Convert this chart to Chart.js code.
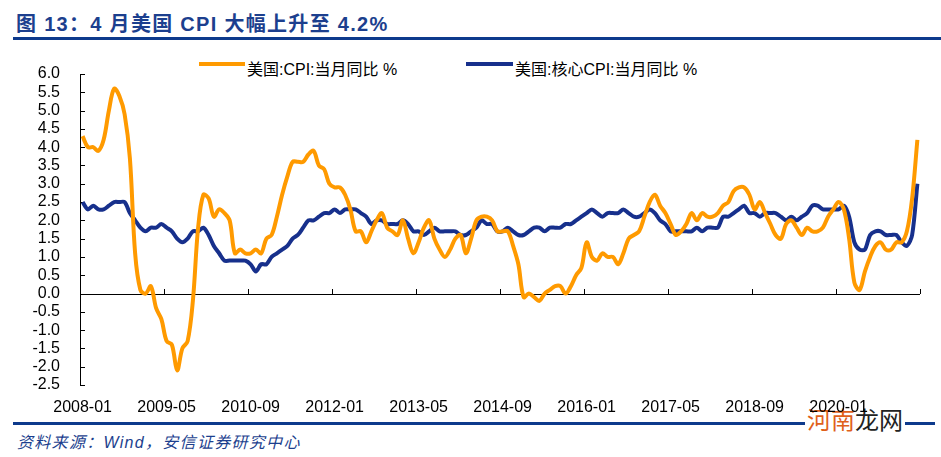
<!DOCTYPE html>
<html>
<head>
<meta charset="utf-8">
<script src="https://cdn.jsdelivr.net/npm/chart.js@4"></script>
<style>
body { margin: 0; background: #fff; font-family: "Liberation Sans", "Noto Sans CJK SC", sans-serif; }
#wrap { position: relative; width: 941px; height: 457px; overflow: hidden; }
#chart { position: absolute; left: 0; top: 0; }
.title { position: absolute; left: 16px; top: 8px; font-size: 20px; font-weight: bold; color: #1c3f8e; letter-spacing: 1.3px; white-space: nowrap; }
.rule { position: absolute; left: 13px; right: 0; height: 3px; background: #0d3a8c; }
.leg-line { position: absolute; height: 4px; }
.leg-text { position: absolute; font-size: 16px; color: #000; white-space: nowrap; }
.source { position: absolute; left: 17px; top: 429px; font-size: 16px; font-style: italic; color: #1c3f8e; letter-spacing: 1.3px; white-space: nowrap; }
.mark { position: absolute; left: 805px; top: 408px; font-size: 24px; background: #fff; padding: 0 2px; line-height: 26px; white-space: nowrap; }
</style>
</head>
<body>
<div id="wrap">
	<div class="title">图 13：4 月美国 CPI 大幅上升至 4.2%</div>
	<div class="rule" style="top:37px"></div>
	<div class="leg-line" style="left:199px;top:62px;width:46px;background:#ff9a00"></div>
	<div class="leg-text" style="left:247px;top:56px">美国:CPI:当月同比 %</div>
	<div class="leg-line" style="left:466px;top:62px;width:47px;background:#17308c"></div>
	<div class="leg-text" style="left:515px;top:56px">美国:核心CPI:当月同比 %</div>
	<div class="rule" style="top:422px;right:6px"></div>
	<div class="source">资料来源：Wind，安信证券研究中心</div>
	<div class="mark"><span style="color:#e0601a">河南</span><span style="color:#222">龙网</span></div>
	<canvas id="chart" width="941" height="457"></canvas>
</div>
<script>
var startYear = 2008;
var monthCount = 160;
var tickEvery = 16;

var cpi = [
	4.3, 4.0, 4.0, 3.9, 4.2, 5.0, 5.6, 5.4, 4.9, 3.7, 1.1, 0.1,
	0.0, 0.2, -0.4, -0.7, -1.3, -1.4, -2.1, -1.5, -1.3, -0.2, 1.8, 2.7,
	2.6, 2.1, 2.3, 2.2, 2.0, 1.1, 1.2, 1.1, 1.1, 1.2, 1.1, 1.5,
	1.6, 2.1, 2.7, 3.2, 3.6, 3.6, 3.6, 3.8, 3.9, 3.5, 3.4, 3.0,
	2.9, 2.9, 2.7, 2.3, 1.7, 1.7, 1.4, 1.7, 2.0, 2.2, 1.8, 1.7,
	1.6, 2.0, 1.5, 1.1, 1.4, 1.8, 2.0, 1.5, 1.2, 1.0, 1.2, 1.5,
	1.6, 1.1, 1.5, 2.0, 2.1, 2.1, 2.0, 1.7, 1.7, 1.7, 1.3, 0.8,
	-0.1, 0.0, -0.1, -0.2, 0.0, 0.1, 0.2, 0.2, 0.0, 0.2, 0.5, 0.7,
	1.4, 1.0, 0.9, 1.1, 1.0, 1.0, 0.8, 1.1, 1.5, 1.6, 1.7, 2.1,
	2.5, 2.7, 2.4, 2.2, 1.9, 1.6, 1.7, 1.9, 2.2, 2.0, 2.2, 2.1,
	2.1, 2.2, 2.4, 2.5, 2.8, 2.9, 2.9, 2.7, 2.3, 2.5, 2.2, 1.9,
	1.6, 1.5, 1.9, 2.0, 1.8, 1.6, 1.8, 1.7, 1.7, 1.8, 2.1, 2.3,
	2.5, 2.3, 1.5, 0.3, 0.1, 0.6, 1.0, 1.3, 1.4, 1.2, 1.2, 1.4,
	1.4, 1.7, 2.6, 4.2
];

var coreCpi = [
	2.5, 2.3, 2.4, 2.3, 2.3, 2.4, 2.5, 2.5, 2.5, 2.2, 2.0, 1.8,
	1.7, 1.8, 1.8, 1.9, 1.8, 1.7, 1.5, 1.4, 1.5, 1.7, 1.7, 1.8,
	1.6, 1.3, 1.1, 0.9, 0.9, 0.9, 0.9, 0.9, 0.8, 0.6, 0.8, 0.8,
	1.0, 1.1, 1.2, 1.3, 1.5, 1.6, 1.8, 2.0, 2.0, 2.1, 2.2, 2.2,
	2.3, 2.2, 2.3, 2.3, 2.3, 2.2, 2.1, 1.9, 2.0, 2.0, 1.9, 1.9,
	1.9, 2.0, 1.9, 1.7, 1.7, 1.6, 1.7, 1.8, 1.7, 1.7, 1.7, 1.7,
	1.6, 1.6, 1.7, 1.8, 2.0, 1.9, 1.9, 1.7, 1.7, 1.8, 1.7, 1.6,
	1.6, 1.7, 1.8, 1.8, 1.7, 1.8, 1.8, 1.8, 1.9, 1.9, 2.0, 2.1,
	2.2, 2.3, 2.2, 2.1, 2.2, 2.2, 2.2, 2.3, 2.2, 2.1, 2.1, 2.2,
	2.3, 2.2, 2.0, 1.9, 1.7, 1.7, 1.7, 1.7, 1.7, 1.8, 1.7, 1.8,
	1.8, 1.8, 2.1, 2.1, 2.2, 2.3, 2.4, 2.2, 2.2, 2.1, 2.2, 2.2,
	2.2, 2.1, 2.0, 2.1, 2.0, 2.1, 2.2, 2.4, 2.4, 2.3, 2.3, 2.3,
	2.3, 2.4, 2.1, 1.4, 1.2, 1.2, 1.6, 1.7, 1.7, 1.6, 1.6, 1.6,
	1.4, 1.3, 1.6, 3.0
];

var months = [];
for(var i = 0; i < monthCount; i++) {
	var m = (i % 12) + 1;
	months.push((startYear + Math.floor(i / 12)) + '-' + (m < 10 ? '0' + m : m));
}

var axisFont = { family: '"Liberation Sans", Arial, sans-serif' };

// zero line, y axis line and the small inward ticks
var axisMarks = {
	id: 'axisMarks',
	beforeDatasetsDraw: function(chart) {
		var c = chart.ctx;
		var x = chart.scales.x;
		var y = chart.scales.y;
		var area = chart.chartArea;
		var y0 = y.getPixelForValue(0);
		var step = x.getPixelForValue(1) - x.getPixelForValue(0);
		c.save();
		c.strokeStyle = '#000';
		c.lineWidth = 1;
		c.beginPath();
		c.moveTo(area.left + 0.5, area.top);
		c.lineTo(area.left + 0.5, area.bottom);
		c.moveTo(area.left, Math.round(y0) + 0.5);
		c.lineTo(area.right, Math.round(y0) + 0.5);
		for(var k = 0; k <= monthCount; k += tickEvery) {
			var px = Math.round(x.getPixelForValue(k) - step / 2) + 0.5;
			c.moveTo(px, Math.round(y0));
			c.lineTo(px, Math.round(y0) - 5);
		}
		y.ticks.forEach(function(t) {
			var py = Math.round(y.getPixelForValue(t.value)) + 0.5;
			c.moveTo(area.left, py);
			c.lineTo(area.left + 5, py);
		});
		c.stroke();
		c.restore();
	}
};

new Chart(document.getElementById('chart'), {
	type: 'line',
	data: {
		labels: months,
		datasets: [{
			label: '美国:CPI:当月同比 %',
			data: cpi,
			borderColor: '#ff9a00',
			borderWidth: 4,
			pointRadius: 0,
			tension: 0.35
		}, {
			label: '美国:核心CPI:当月同比 %',
			data: coreCpi,
			borderColor: '#17308c',
			borderWidth: 4,
			pointRadius: 0,
			tension: 0.3
		}]
	},
	options: {
		responsive: false,
		animation: false,
		layout: { padding: { left: 0, right: 21, top: 74, bottom: 0 } },
		plugins: {
			legend: { display: false },
			tooltip: { enabled: false }
		},
		scales: {
			x: {
				offset: true,
				grid: { display: false, drawTicks: false },
				border: { display: false },
				afterFit: function(scale) { scale.height = 72; },
				ticks: {
					autoSkip: false,
					maxRotation: 0,
					minRotation: 0,
					padding: 13,
					color: '#000',
					font: Object.assign({ size: 16 }, axisFont),
					callback: function(val, i) {
						return i % tickEvery === 0 ? this.getLabelForValue(val) : '';
					}
				}
			},
			y: {
				min: -2.5,
				max: 6.0,
				grid: { display: false, drawTicks: false },
				border: { display: false },
				afterFit: function(scale) { scale.width = 80; },
				ticks: {
					stepSize: 0.5,
					autoSkip: false,
					padding: 20,
					color: '#000',
					font: Object.assign({ size: 16 }, axisFont),
					callback: function(v) { return v.toFixed(1); }
				}
			}
		}
	},
	plugins: [axisMarks]
});
</script>
</body>
</html>
